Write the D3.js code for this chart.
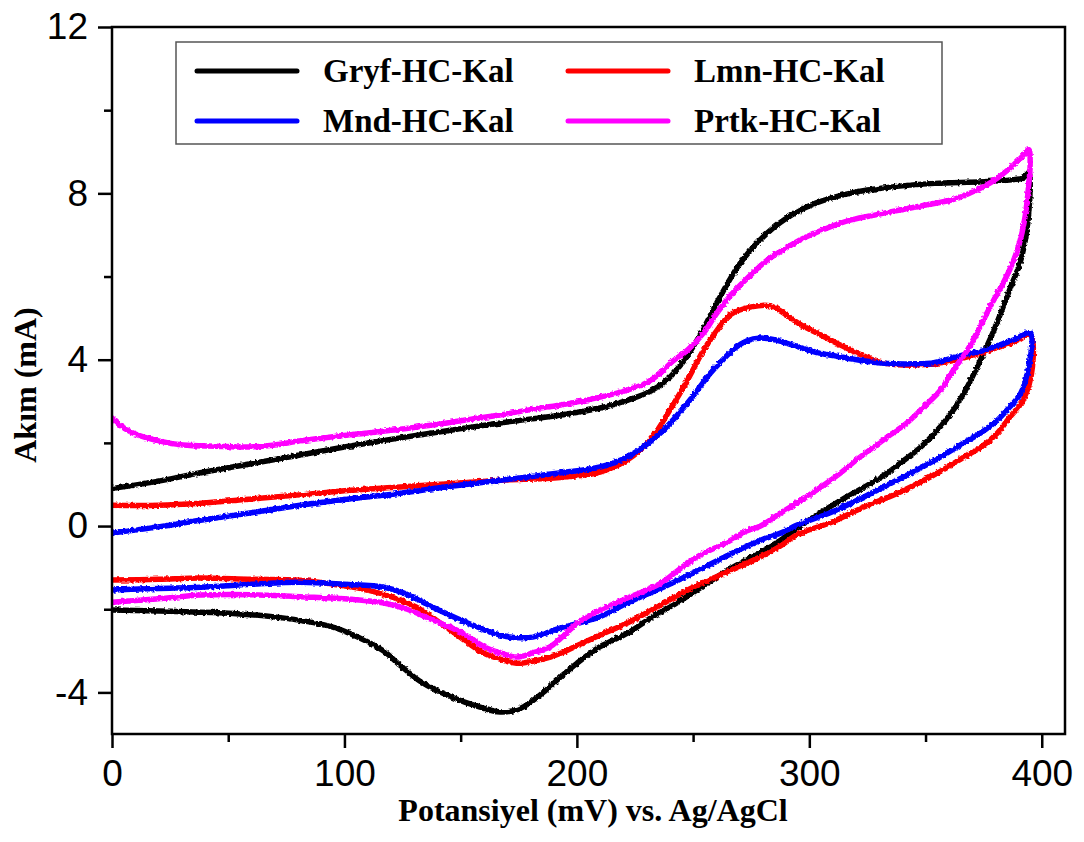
<!DOCTYPE html>
<html>
<head>
<meta charset="utf-8">
<script src="https://cdn.jsdelivr.net/npm/d3@7"></script>
<style>
  html, body { margin: 0; padding: 0; background: #fff; }
  svg { display: block; }
</style>
</head>
<body>
<svg id="chart" width="1084" height="842"></svg>
<script>
// Cyclic voltammograms: [potential (mV), current (mA)], forward scan then reverse scan.
const gryfScan = [
  [0,0.9],[20,1.08],[38,1.28],[60,1.5],[81,1.71],[100,1.9],[124,2.12],[145,2.3],[167,2.48],[193,2.67],
  [210,2.84],[222,3.03],[232,3.25],[240,3.58],[247,4.05],[254,4.7],[261,5.45],[270,6.3],[282,7.05],
  [293,7.5],[303,7.77],[315,7.97],[325,8.08],[340,8.18],[354,8.24],[375,8.28],[388,8.33],[392,8.37],[394.5,8.5],
  [395,8.3],[394.5,7.6],[393,6.9],[390.5,6.3],[387,5.8],[383.6,5.3],[379,4.65],[373.7,4.0],[368,3.35],[362,2.79],
  [355,2.3],[348,1.9],[340,1.55],[333.7,1.28],[325,0.98],[316,0.7],[302,0.22],[293,-0.12],[287.6,-0.34],
  [275,-0.75],[265,-1.06],[254,-1.45],[243,-1.85],[232,-2.2],[222,-2.57],[210,-2.9],[200,-3.3],[193,-3.63],
  [186,-3.98],[181,-4.2],[175,-4.4],[167,-4.47],[158,-4.35],[145.5,-4.1],[133,-3.75],[124,-3.35],[116.7,-3.0],
  [105,-2.65],[95,-2.43],[75,-2.22],[52,-2.1],[25,-2.05],[0,-2.02]
];
const lmnScan = [
  [0,0.5],[20,0.5],[38,0.55],[60,0.65],[81,0.75],[100,0.85],[124,0.94],[145,1.02],[167,1.1],[193,1.17],
  [210,1.3],[221.7,1.59],[231.6,2.07],[240,2.79],[247.6,3.51],[254.5,4.23],[260.5,4.72],[266,5.08],[275,5.27],
  [283,5.3],[289,5.12],[296,4.85],[302,4.68],[310,4.45],[316,4.28],[325,4.05],[331,3.93],[345,3.87],
  [359.5,3.95],[373.7,4.16],[382,4.31],[388,4.43],[395,4.6],
  [396,3.83],[392,3.03],[386,2.6],[381,2.24],[374,1.9],[366.5,1.66],[359,1.4],[352,1.18],[338,0.79],
  [323.5,0.46],[309,0.08],[295,-0.2],[287.6,-0.48],[279,-0.74],[265,-1.1],[250,-1.47],[236,-1.9],
  [221.7,-2.33],[210,-2.62],[203,-2.8],[193,-3.06],[188.6,-3.15],[181,-3.25],[174,-3.3],[167,-3.2],
  [160,-3.06],[145.5,-2.5],[131,-1.95],[120,-1.7],[110,-1.54],[95,-1.4],[81,-1.3],[60,-1.28],[38,-1.25],
  [20,-1.28],[0,-1.3]
];
const mndScan = [
  [0,-0.17],[20,-0.02],[38,0.14],[60,0.32],[81,0.5],[100,0.64],[124,0.79],[145,0.95],[167,1.1],[193,1.28],
  [210,1.42],[221.7,1.66],[236,2.24],[247.6,2.96],[257.5,3.68],[262,3.95],[267.4,4.25],[273,4.45],[279,4.52],
  [285,4.48],[293,4.35],[302,4.19],[310,4.1],[316,4.04],[330.7,3.92],[345,3.9],[353.5,3.93],[368,4.14],
  [373.7,4.2],[382,4.36],[388,4.48],[395,4.64],
  [394.4,3.83],[391,3.2],[386,2.85],[381,2.55],[374,2.25],[366.5,2.0],[359,1.75],[352,1.52],[338,1.11],
  [323.5,0.7],[309,0.32],[295,0.03],[287.6,-0.17],[279,-0.34],[265,-0.7],[250,-1.13],[236,-1.5],
  [221.7,-1.85],[210,-2.18],[203,-2.3],[193,-2.45],[181,-2.67],[173,-2.68],[167,-2.62],[153,-2.33],
  [138,-1.95],[125,-1.6],[117,-1.47],[100,-1.4],[81,-1.35],[60,-1.4],[38,-1.47],[20,-1.5],[0,-1.54]
];
const prtkScan = [
  [0,2.6],[4,2.4],[9,2.24],[20,2.05],[30.6,1.95],[45,1.92],[59,1.9],[70,1.95],[81,2.05],[95,2.15],
  [110,2.24],[124,2.33],[138,2.43],[152,2.55],[167,2.67],[180,2.8],[193,2.91],[210,3.1],[221.7,3.27],
  [230,3.45],[236,3.68],[241,3.95],[247.6,4.23],[254.5,4.64],[260,5.1],[267,5.6],[275,6.05],[282,6.4],
  [289,6.65],[296,6.88],[307,7.15],[318,7.36],[330,7.5],[339,7.6],[350,7.72],[361,7.84],[368,7.98],
  [375,8.16],[381,8.37],[387,8.64],[391,8.85],[394.4,9.05],
  [395,8.7],[394.2,8.1],[393,7.5],[391.5,7.05],[389.5,6.64],[386.5,6.2],[383,5.8],[379,5.4],[373.5,4.8],
  [368,4.23],[362,3.75],[356.5,3.27],[349,2.85],[342,2.48],[335,2.2],[327.7,1.9],[320,1.58],[313.5,1.28],[305,0.94],
  [296,0.6],[287.6,0.31],[279,0.0],[273,-0.12],[265,-0.38],[253,-0.7],[245,-1.0],[236,-1.38],[221,-1.75],
  [207,-2.1],[200,-2.35],[193,-2.7],[188.6,-2.9],[181,-3.05],[174,-3.15],[167,-3.05],[160,-2.9],
  [150,-2.55],[138,-2.26],[127,-2.0],[117,-1.85],[100,-1.75],[81,-1.7],[60,-1.65],[38,-1.66],[20,-1.75],[0,-1.83]
];

const seriesNames = ["Gryf-HC-Kal", "Lmn-HC-Kal", "Mnd-HC-Kal", "Prtk-HC-Kal"];
const seriesColors = ["#000000", "#ff0000", "#0000ff", "#ff00ff"];
const seriesData = [gryfScan, lmnScan, mndScan, prtkScan];

const xMajorTicks = [0, 100, 200, 300, 400];
const xMinorTicks = [50, 150, 250, 350];
const yMajorTicks = [-4, 0, 4, 8, 12];
const yMinorTicks = [-2, 2, 6, 10];

const xTitle = "Potansiyel (mV) vs. Ag/AgCl";
const yTitle = "Akım (mA)";

const svg = d3.select("#chart");
const plot = { left: 112, right: 1065, top: 27, bottom: 734 };

const x = d3.scaleLinear().domain([0, 410]).range([plot.left, plot.right]);
const y = d3.scaleLinear().domain([-5, 12]).range([plot.bottom, plot.top]);

// slight roughness for the measured traces
const defs = svg.append("defs");
const f = defs.append("filter").attr("id", "rough")
  .attr("x", "-5%").attr("y", "-5%").attr("width", "110%").attr("height", "110%");
f.append("feTurbulence").attr("type", "fractalNoise").attr("baseFrequency", 0.35)
  .attr("numOctaves", 2).attr("seed", 3).attr("result", "noise");
f.append("feDisplacementMap").attr("in", "SourceGraphic").attr("in2", "noise")
  .attr("scale", 3.5).attr("xChannelSelector", "R").attr("yChannelSelector", "G");

const clip = defs.append("clipPath").attr("id", "plotclip");
clip.append("rect").attr("x", plot.left).attr("y", plot.top)
  .attr("width", plot.right - plot.left).attr("height", plot.bottom - plot.top);

// traces
const line = d3.line()
  .x(d => x(d[0]))
  .y(d => y(d[1]))
  .curve(d3.curveCatmullRom.alpha(0.5));

const traces = svg.append("g").attr("clip-path", "url(#plotclip)");
seriesData.forEach((data, i) => {
  traces.append("path")
    .datum(data)
    .attr("d", line)
    .attr("fill", "none")
    .attr("stroke", seriesColors[i])
    .attr("stroke-width", 5.5)
    .attr("stroke-linejoin", "round")
    .attr("stroke-linecap", "round")
    .attr("filter", "url(#rough)");
});

// axes
const tickFont = "'Liberation Sans', Arial, sans-serif";
const fmt = d => String(d);
const xAxis = svg.append("g").attr("transform", `translate(0,${plot.bottom})`)
  .call(d3.axisBottom(x).tickValues(xMajorTicks).tickSize(14).tickPadding(12).tickFormat(fmt));
const xMinor = svg.append("g").attr("transform", `translate(0,${plot.bottom})`)
  .call(d3.axisBottom(x).tickValues(xMinorTicks).tickSize(8).tickFormat(""));
const yAxis = svg.append("g").attr("transform", `translate(${plot.left},0)`)
  .call(d3.axisLeft(y).tickValues(yMajorTicks).tickSize(14).tickPadding(10).tickFormat(fmt));
const yMinor = svg.append("g").attr("transform", `translate(${plot.left},0)`)
  .call(d3.axisLeft(y).tickValues(yMinorTicks).tickSize(8).tickFormat(""));

[xAxis, xMinor, yAxis, yMinor].forEach(g => {
  g.select(".domain").remove();
  g.selectAll(".tick line").attr("stroke", "#000").attr("stroke-width", 2.5);
  g.selectAll(".tick text").attr("fill", "#000")
    .style("font-family", tickFont).style("font-size", "37px");
});

// frame
svg.append("rect")
  .attr("x", plot.left).attr("y", plot.top)
  .attr("width", plot.right - plot.left).attr("height", plot.bottom - plot.top)
  .attr("fill", "none").attr("stroke", "#000").attr("stroke-width", 2.5);

// axis titles
const titleFont = "'Liberation Serif', 'Times New Roman', serif";
svg.append("text")
  .attr("x", 593).attr("y", 821)
  .attr("text-anchor", "middle")
  .style("font-family", titleFont).style("font-weight", "bold").style("font-size", "32px")
  .text(xTitle);
svg.append("text")
  .attr("transform", "translate(36,385) rotate(-90)")
  .attr("text-anchor", "middle")
  .style("font-family", titleFont).style("font-weight", "bold").style("font-size", "32px")
  .text(yTitle);

// legend
const legend = svg.append("g");
legend.append("rect")
  .attr("x", 176).attr("y", 42).attr("width", 766).attr("height", 102)
  .attr("fill", "#fff").attr("stroke", "#555").attr("stroke-width", 1.5);
const legendCols = [197, 568];
const legendRows = [71, 121];
seriesNames.forEach((name, i) => {
  const cx = legendCols[i % 2];
  const cy = legendRows[Math.floor(i / 2)];
  legend.append("line")
    .attr("x1", cx).attr("x2", cx + 100).attr("y1", cy).attr("y2", cy)
    .attr("stroke", seriesColors[i]).attr("stroke-width", 5).attr("stroke-linecap", "round");
  legend.append("text")
    .attr("x", cx + 126).attr("y", cy + 11)
    .style("font-family", titleFont).style("font-weight", "bold").style("font-size", "33px")
    .text(name);
});
</script>
</body>
</html>
